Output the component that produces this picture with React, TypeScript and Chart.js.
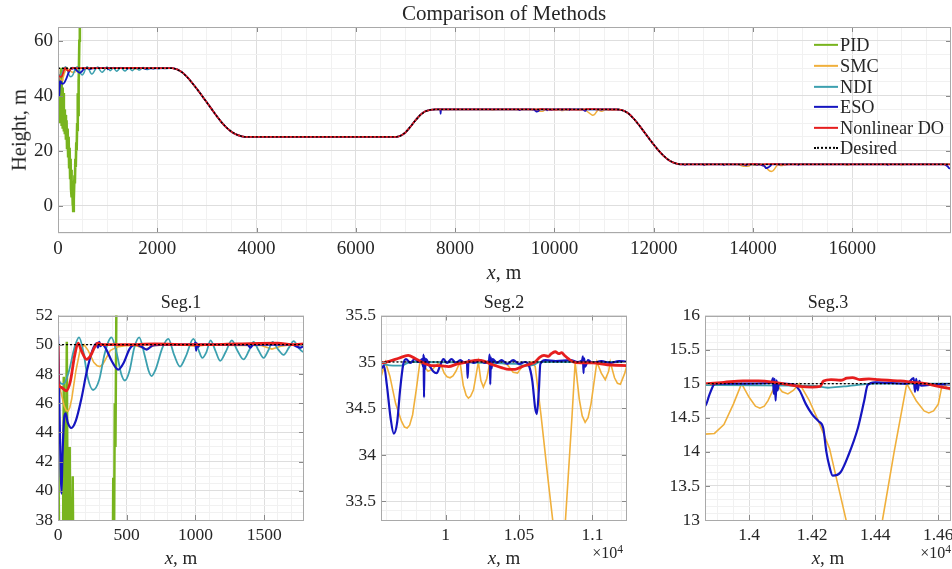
import React, { useEffect, useRef } from "react";
import { Chart, registerables } from "chart.js";

Chart.register(...registerables);

type P = [number, number];

const SERIF = '"Liberation Serif", "Times New Roman", serif';
const TXT = "#262626";
Chart.defaults.font.family = SERIF;

// ---------- series ----------
const seriesNames = ["PID", "SMC", "NDI", "ESO", "Nonlinear DO", "Desired"];
const seriesColors = ["#78b41e", "#f0b03c", "#3ca0af", "#1515c0", "#e61e1e", "#000000"];

// shared reference transitions (followed by every controller)
const ramp1: P[] = [[2350, 49.85], [2400, 49.55], [2500, 48.5], [2600, 46.8], [2700, 44.7], [2800, 42.4], [2900, 40.0], [3000, 37.5], [3100, 35.0], [3200, 32.5], [3300, 30.2], [3400, 28.3], [3500, 26.8], [3600, 25.8], [3700, 25.2], [3760, 25.0]];
const flat25: P[] = [[3800, 25], [6800, 25]];
const ramp2: P[] = [[6850, 25.1], [6900, 25.4], [7000, 26.6], [7100, 28.7], [7200, 31.0], [7300, 33.0], [7400, 34.3], [7500, 34.85], [7600, 35.0]];
const ramp3: P[] = [[11300, 34.95], [11400, 34.5], [11500, 33.4], [11600, 31.6], [11700, 29.4], [11800, 27.0], [11900, 24.6], [12000, 22.2], [12100, 20.0], [12200, 18.1], [12300, 16.6], [12400, 15.6], [12500, 15.1], [12560, 15.0]];

// Desired
const desiredA: P[] = [[0, 50], [2300, 50]];
const desiredC: P[] = [[7650, 35], [11250, 35]];
const desiredD: P[] = [[12600, 15], [18000, 15]];

// PID
const pidPts: P[] = [[0, 44], [12, 34], [26, 38], [34, 30], [42, 47.8], [52, 31], [64, 50.2], [74, 29], [85, 43], [95, 28], [107, 41.0], [118, 27], [128, 35], [138, 26], [150, 33], [160, 24], [172, 31], [182, 21], [194, 28], [204, 18], [214, 25], [224, 14], [234, 21], [244, 10], [254, 17], [262, 6], [270, 13], [278, 3], [286, 9], [294, 0], [300, 4], [306, -2], [314, 5], [322, 2], [332, 11], [340, 8], [350, 17], [358, 14], [368, 23], [376, 20], [386, 30], [394, 27], [402, 40.9], [406, 33], [413, 46], [418, 43], [430, 60], [440, 72]];

// SMC
const smcA: P[] = [[0, 50], [5, 47.9], [20, 46.8], [45, 45.8], [60, 45.5], [73, 45.45], [86, 45.7], [100, 46.3], [130, 48.2], [160, 49.6], [190, 50.0], [220, 49.6], [260, 48.8], [285, 48.55], [305, 48.5], [325, 48.65], [340, 48.9], [380, 49.6], [430, 49.85], [500, 49.95], [580, 49.9], [640, 49.7], [700, 49.95], [900, 50], [1000, 49.9], [1100, 50], [1300, 49.95], [1480, 49.95], [1557, 49.7], [1620, 49.9], [1700, 50], [1790, 50], [2300, 50]];
const smcC: P[] = [[7650, 35], [8700, 35], [8760, 34.75], [8820, 35], [9490, 35], [9525, 34.85], [9560, 34.84], [9590, 35.0], [9620, 34.85], [9660, 34.55], [9700, 34.36], [9720, 34.3], [9738, 34.29], [9755, 34.32], [9775, 34.43], [9800, 34.7], [9825, 35.0], [9850, 34.96], [9880, 34.9], [9910, 34.92], [9940, 34.97], [9961, 35.0], [9990, 34.88], [10010, 34.84], [10030, 34.83], [10050, 34.85], [10070, 34.9], [10098, 35.0], [10120, 34.75], [10140, 34.64], [10155, 34.61], [10170, 34.63], [10190, 34.7], [10223, 35.0], [10240, 34.8], [10257, 34.73], [10280, 34.82], [10302, 35.0], [10330, 34.96], [10360, 35.0], [10420, 34.97], [10460, 34.89], [10490, 34.88], [10520, 34.95], [10587, 35.0], [10610, 34.95], [10650, 34.42], [10700, 33.7], [10740, 33.15], [10760, 32.95], [10775, 32.9], [10790, 32.95], [10810, 33.15], [10830, 33.65], [10860, 34.4], [10882, 35.0], [10910, 34.6], [10930, 34.42], [10950, 34.35], [10970, 34.4], [10990, 34.55], [11030, 35.0], [11060, 34.88], [11087, 34.81], [11110, 34.9], [11121, 35.0], [11150, 34.83], [11170, 34.77], [11190, 34.76], [11220, 34.88], [11240, 35.0]];
const smcD: P[] = [[12600, 15], [13000, 15], [13050, 14.85], [13100, 15], [13700, 15], [13760, 14.6], [13810, 14.33], [13860, 14.26], [13890, 14.27], [13920, 14.4], [13950, 14.7], [13976, 15.0], [14000, 14.8], [14020, 14.67], [14034, 14.64], [14048, 14.67], [14060, 14.75], [14085, 15.0], [14105, 14.88], [14123, 14.85], [14140, 14.9], [14160, 15.0], [14190, 14.76], [14220, 14.45], [14255, 14.05], [14285, 13.45], [14310, 12.95], [14340, 12.55], [14370, 12.4], [14400, 12.6], [14423, 13.0], [14460, 14.0], [14500, 15.0], [14530, 14.75], [14555, 14.6], [14570, 14.57], [14585, 14.6], [14600, 14.7], [14613, 15.0], [14640, 14.9], [14700, 15], [15850, 15], [15900, 14.8], [15950, 15], [16950, 15], [17000, 14.85], [17050, 15], [18000, 15]];

// NDI
const ndiA: P[] = [[0, 50], [5, 47.6], [40, 47.3], [80, 48.2], [120, 49.8], [153, 50.5], [185, 49.5], [215, 47.8], [255, 46.9], [300, 47.6], [340, 49.4], [389, 50.5], [430, 49.3], [460, 48.0], [487, 47.55], [520, 48.2], [555, 49.8], [591, 50.5], [630, 49.3], [660, 48.2], [681, 47.85], [710, 48.3], [760, 49.8], [803, 50.4], [845, 49.3], [888, 48.5], [930, 49.2], [985, 50.4], [1020, 49.7], [1050, 49.1], [1080, 49.5], [1110, 50.3], [1145, 49.6], [1180, 48.9], [1220, 49.5], [1265, 50.3], [1305, 49.6], [1350, 49.0], [1390, 49.6], [1423, 50.2], [1460, 49.6], [1496, 49.1], [1530, 49.6], [1562, 50.2], [1600, 49.7], [1642, 49.3], [1680, 49.8], [1715, 50.25], [1750, 49.8], [1790, 49.5], [1830, 49.7], [1870, 50.1], [1920, 49.7], [1970, 50.1], [2030, 49.8], [2090, 50.05], [2150, 49.85], [2220, 50], [2300, 50]];
const ndiC: P[] = [[7650, 35], [9500, 35], [9560, 34.99], [9600, 34.97], [9700, 34.96], [9760, 35.0], [10480, 34.98], [10540, 34.96], [10600, 34.97], [10640, 35.0], [11240, 35.0]];
const ndiD: P[] = [[12600, 15], [13860, 14.98], [14200, 14.97], [14250, 14.94], [14300, 14.96], [14400, 15.0], [18000, 15]];

// ESO
const esoA: P[] = [[0, 50.65], [8, 47], [18, 42], [25, 39.8], [33, 42.5], [45, 45.0], [56, 45.3], [70, 44.7], [97, 44.3], [130, 44.8], [170, 46.3], [210, 48.2], [250, 49.6], [280, 50.1], [290, 49.8], [300, 50.2], [310, 49.9], [320, 50.05], [350, 49.7], [390, 48.9], [438, 48.3], [480, 48.8], [520, 49.7], [560, 50.0], [600, 49.9], [645, 49.67], [690, 49.95], [800, 50], [990, 50], [1000, 50.15], [1005, 49.6], [1010, 50.1], [1020, 49.85], [1030, 50], [1380, 50], [1400, 49.8], [1420, 50], [1700, 50], [1764, 49.8], [1790, 49.9], [2300, 50]];
const esoC: P[] = [[7650, 35], [7700, 35.05], [7708, 33.4], [7716, 35.0], [9280, 35], [9300, 34.7], [9320, 35], [9540, 35.0], [9560, 34.93], [9580, 34.96], [9600, 34.75], [9625, 34.4], [9647, 34.23], [9670, 34.35], [9690, 34.7], [9711, 34.97], [9730, 35.03], [9760, 34.99], [9790, 35.03], [9820, 35.0], [9840, 35.03], [9846, 34.95], [9850, 35.08], [9853, 34.62], [9856, 35.05], [9860, 34.92], [9866, 35.03], [9890, 34.96], [9915, 34.9], [9939, 34.88], [9960, 34.95], [9985, 35.03], [10010, 34.99], [10040, 35.03], [10070, 34.99], [10100, 35.02], [10130, 34.99], [10145, 35.0], [10150, 34.83], [10156, 35.02], [10190, 34.99], [10230, 35.02], [10270, 34.99], [10296, 35.02], [10300, 35.08], [10304, 34.76], [10308, 35.05], [10313, 34.93], [10320, 35.03], [10350, 34.99], [10380, 35.02], [10420, 34.98], [10460, 35.02], [10500, 34.98], [10540, 35.0], [10565, 34.97], [10590, 34.8], [10610, 34.5], [10621, 34.44], [10635, 34.7], [10645, 34.98], [10680, 35.02], [10750, 35.01], [10850, 35.02], [10900, 35.0], [10930, 35.02], [10935, 35.06], [10939, 34.88], [10943, 35.04], [10950, 34.95], [10970, 35.02], [11000, 34.99], [11060, 35.01], [11120, 34.99], [11180, 35.01], [11240, 35.0]];
const esoD: P[] = [[12600, 15], [12640, 14.8], [12660, 15], [13000, 15], [13015, 14.75], [13030, 15], [13400, 15], [13415, 14.75], [13430, 15], [13800, 15], [13830, 14.85], [13860, 14.67], [13875, 14.85], [13892, 15.0], [13950, 15.0], [14070, 15.01], [14076, 15.08], [14078, 14.85], [14081, 15.07], [14084, 14.75], [14087, 15.05], [14090, 14.9], [14094, 15.0], [14140, 14.99], [14160, 14.9], [14180, 14.7], [14200, 14.55], [14220, 14.45], [14235, 14.35], [14245, 14.0], [14255, 13.78], [14265, 13.65], [14290, 13.7], [14315, 13.95], [14345, 14.35], [14365, 14.75], [14376, 14.98], [14400, 15.02], [14500, 15.0], [14522, 15.08], [14526, 14.88], [14530, 15.07], [14535, 14.9], [14540, 15.04], [14545, 14.97], [14600, 14.99], [14640, 14.99], [14900, 15], [14915, 14.8], [14930, 15], [16700, 15], [16715, 14.8], [16730, 15], [17850, 15], [17920, 14.3], [17960, 13.5], [18000, 13.7]];

// Nonlinear DO
const ndoA: P[] = [[0, 50], [3, 47.3], [20, 47.1], [61, 46.85], [90, 47.5], [120, 49.2], [146, 50.1], [170, 49.6], [207, 49.0], [240, 49.3], [270, 49.9], [290, 50.1], [320, 50.0], [500, 50], [700, 50.05], [1000, 50], [1300, 50.05], [1600, 50.1], [1700, 50.0], [1790, 50.05], [2300, 50]];
const ndoC: P[] = [[7650, 35], [9500, 35], [9560, 34.99], [9620, 35.01], [9680, 35.04], [9745, 35.07], [9790, 35.04], [9850, 34.99], [9904, 34.96], [9960, 34.96], [10020, 34.95], [10080, 34.98], [10150, 35.0], [10220, 35.02], [10260, 35.01], [10320, 34.97], [10380, 34.94], [10430, 34.92], [10473, 34.92], [10520, 34.95], [10580, 34.98], [10610, 35.0], [10640, 35.05], [10670, 35.07], [10700, 35.06], [10720, 35.09], [10746, 35.11], [10770, 35.09], [10790, 35.1], [10810, 35.07], [10840, 35.03], [10870, 35.0], [10920, 34.99], [11000, 34.99], [11100, 34.97], [11240, 34.96]];
const ndoD: P[] = [[12600, 15], [13860, 15.0], [13920, 15.02], [13980, 15.04], [14030, 15.04], [14080, 15.02], [14120, 14.99], [14160, 14.96], [14200, 14.95], [14225, 14.96], [14236, 15.04], [14260, 15.06], [14290, 15.05], [14310, 15.08], [14328, 15.09], [14350, 15.06], [14380, 15.07], [14410, 15.06], [14440, 15.05], [14480, 15.04], [14520, 15.02], [14560, 15.0], [14600, 14.96], [14640, 14.93], [14800, 14.98], [18000, 15]];

const pidData: P[] = pidPts;
const smcData: P[] = [...smcA, ...ramp1, ...flat25, ...ramp2, ...smcC, ...ramp3, ...smcD];
const ndiData: P[] = [...ndiA, ...ramp1, ...flat25, ...ramp2, ...ndiC, ...ramp3, ...ndiD];
const esoData: P[] = [...esoA, ...ramp1, ...flat25, ...ramp2, ...esoC, ...ramp3, ...esoD];
const ndoData: P[] = [...ndoA, ...ramp1, ...flat25, ...ramp2, ...ndoC, ...ramp3, ...ndoD];
const desiredData: P[] = [...desiredA, ...ramp1, ...flat25, ...ramp2, ...desiredC, ...ramp3, ...desiredD];

// ---------- ticks ----------
const topXTicks = [0, 2000, 4000, 6000, 8000, 10000, 12000, 14000, 16000];
const topXLabels = ["0", "2000", "4000", "6000", "8000", "10000", "12000", "14000", "16000"];
const topYTicks = [0, 20, 40, 60];
const topYLabels = ["0", "20", "40", "60"];
const seg1XTicks = [0, 500, 1000, 1500];
const seg1XLabels = ["0", "500", "1000", "1500"];
const seg1YTicks = [38, 40, 42, 44, 46, 48, 50, 52];
const seg1YLabels = ["38", "40", "42", "44", "46", "48", "50", "52"];
const seg2XTicks = [10000, 10500, 11000];
const seg2XLabels = ["1", "1.05", "1.1"];
const seg2YTicks = [33.5, 34, 34.5, 35, 35.5];
const seg2YLabels = ["33.5", "34", "34.5", "35", "35.5"];
const seg3XTicks = [14000, 14200, 14400, 14600];
const seg3XLabels = ["1.4", "1.42", "1.44", "1.46"];
const seg3YTicks = [13, 13.5, 14, 14.5, 15, 15.5, 16];
const seg3YLabels = ["13", "13.5", "14", "14.5", "15", "15.5", "16"];

const topWidths = [2.6, 1.5, 1.5, 1.8, 1.8, 1.4];
const segWidths = [2.5, 1.6, 1.8, 2.2, 2.8, 1.3];
const smoothSeries = [false, false, true, true, true, false];

type Spec = {
  left: number; top: number; width: number; height: number;
  padTop: number; padRight: number; yAxisW: number; xAxisH: number;
  xMin: number; xMax: number; yMin: number; yMax: number;
  xMajor: number[]; xLabels: string[]; xMinor: number;
  yMajor: number[]; yLabels: string[]; yMinor: number;
  widths: number[]; tickSize: number; xPad: number;
};

const panels: Spec[] = [
  { left: 0, top: 0, width: 961, height: 262, padTop: 27, padRight: 10, yAxisW: 58, xAxisH: 29,
    xMin: 0, xMax: 17990, yMin: -10, yMax: 65, xMajor: topXTicks, xLabels: topXLabels, xMinor: 500,
    yMajor: topYTicks, yLabels: topYLabels, yMinor: 5, widths: topWidths, tickSize: 19, xPad: 5 },
  { left: 0, top: 300, width: 312, height: 269, padTop: 13, padRight: 8, yAxisW: 58, xAxisH: 49,
    xMin: 0, xMax: 1790, yMin: 38, yMax: 52, xMajor: seg1XTicks, xLabels: seg1XLabels, xMinor: 100,
    yMajor: seg1YTicks, yLabels: seg1YLabels, yMinor: 0.5, widths: segWidths, tickSize: 17.5, xPad: 5 },
  { left: 323, top: 300, width: 312, height: 269, padTop: 13, padRight: 8, yAxisW: 58, xAxisH: 49,
    xMin: 9560, xMax: 11235, yMin: 33.3, yMax: 35.5, xMajor: seg2XTicks, xLabels: seg2XLabels, xMinor: 100,
    yMajor: seg2YTicks, yLabels: seg2YLabels, yMinor: 0.1, widths: segWidths, tickSize: 17.5, xPad: 5 },
  { left: 647, top: 300, width: 312, height: 269, padTop: 13, padRight: 8, yAxisW: 58, xAxisH: 49,
    xMin: 13860, xMax: 14640, yMin: 13, yMax: 16, xMajor: seg3XTicks, xLabels: seg3XLabels, xMinor: 50,
    yMajor: seg3YTicks, yLabels: seg3YLabels, yMinor: 0.1, widths: segWidths, tickSize: 17.5, xPad: 5 },
];

function gridValues(min: number, max: number, step: number): number[] {
  const out: number[] = [];
  const s = Math.ceil(min / step - 1e-9);
  const e = Math.floor(max / step + 1e-9);
  for (let i = s; i <= e; i++) out.push(Math.round(i * step * 1e6) / 1e6);
  return out;
}
function majorIndex(v: number, majors: number[]): number {
  return majors.findIndex((m) => Math.abs(m - v) < 1e-6 * Math.max(1, Math.abs(m)));
}

const framePlugin = {
  id: "frame",
  afterDatasetsDraw(chart: any, _a: any, opts: any) {
    const { ctx, chartArea: a } = chart;
    const xs = chart.scales.x;
    const ys = chart.scales.y;
    ctx.save();
    ctx.lineWidth = 1;
    ctx.strokeStyle = "#8a8a8a";
    ctx.beginPath();
    for (const v of opts.xMajor) {
      const px = Math.round(xs.getPixelForValue(v)) + 0.5;
      if (px < a.left - 1 || px > a.right + 1) continue;
      ctx.moveTo(px, a.bottom); ctx.lineTo(px, a.bottom - 5);
      ctx.moveTo(px, a.top); ctx.lineTo(px, a.top + 5);
    }
    for (const v of opts.yMajor) {
      const py = Math.round(ys.getPixelForValue(v)) + 0.5;
      if (py < a.top - 1 || py > a.bottom + 1) continue;
      ctx.moveTo(a.left, py); ctx.lineTo(a.left + 5, py);
      ctx.moveTo(a.right, py); ctx.lineTo(a.right - 5, py);
    }
    ctx.stroke();
    ctx.strokeStyle = "#a9a9a9";
    ctx.strokeRect(Math.round(a.left) + 0.5, Math.round(a.top) + 0.5, Math.round(a.right - a.left) - 1, Math.round(a.bottom - a.top) - 1);
    ctx.restore();
  },
};

function makeChart(canvas: HTMLCanvasElement, p: Spec) {
  const sets: P[][] = [desiredData, ndoData, esoData, ndiData, smcData, pidData];
  const nameIdx = [5, 4, 3, 2, 1, 0];
  const datasets = sets.map((d, k) => {
    const i = nameIdx[k];
    return {
      label: seriesNames[i],
      data: d.map(([x, y]) => ({ x, y })),
      borderColor: seriesColors[i],
      backgroundColor: seriesColors[i],
      borderWidth: p.widths[i],
      borderDash: i === 5 ? [2, 2] : [],
      pointRadius: 0,
      tension: 0,
      cubicInterpolationMode: smoothSeries[i] ? "monotone" : "default",
      fill: false,
      clip: 0,
    };
  });
  const xTicks = gridValues(p.xMin, p.xMax, p.xMinor);
  const yTicks = gridValues(p.yMin, p.yMax, p.yMinor);
  const gridColor = (majors: number[]) => (c: any) =>
    c.tick && majorIndex(c.tick.value, majors) >= 0 ? "#dedede" : "#f1f1f1";
  const font = { family: SERIF, size: p.tickSize };
  return new Chart(canvas, {
    type: "line",
    data: { datasets: datasets as any },
    plugins: [framePlugin as any],
    options: {
      responsive: false,
      animation: false,
      events: [],
      font: { family: SERIF },
      layout: { padding: { top: p.padTop, right: p.padRight, left: 0, bottom: 0 } },
      plugins: {
        legend: { display: false },
        tooltip: { enabled: false },
        title: { display: false },
        frame: { xMajor: p.xMajor, yMajor: p.yMajor },
      } as any,
      scales: {
        x: {
          type: "linear",
          min: p.xMin,
          max: p.xMax,
          afterBuildTicks: (s: any) => { s.ticks = xTicks.map((v) => ({ value: v })); },
          afterFit: (s: any) => { s.height = p.xAxisH; },
          grid: { color: gridColor(p.xMajor), drawTicks: false, lineWidth: 1 },
          border: { display: false },
          ticks: {
            autoSkip: false, maxRotation: 0, padding: p.xPad, color: TXT, font: { ...font },
            callback: (v: any) => { const j = majorIndex(Number(v), p.xMajor); return j >= 0 ? p.xLabels[j] : ""; },
          },
        },
        y: {
          type: "linear",
          min: p.yMin,
          max: p.yMax,
          afterBuildTicks: (s: any) => { s.ticks = yTicks.map((v) => ({ value: v })); },
          afterFit: (s: any) => { s.width = p.yAxisW; },
          grid: { color: gridColor(p.yMajor), drawTicks: false, lineWidth: 1 },
          border: { display: false },
          ticks: {
            autoSkip: false, padding: 5, color: TXT, font: { ...font },
            callback: (v: any) => { const j = majorIndex(Number(v), p.yMajor); return j >= 0 ? p.yLabels[j] : ""; },
          },
        },
      },
    } as any,
  });
}

function Txt(props: { x: number; y: number; size: number; children: any; rotate?: boolean; anchor?: "c" | "r" }) {
  const tx = props.anchor === "r" ? "-100%" : "-50%";
  return (
    <div style={{
      position: "absolute", left: props.x, top: props.y, fontSize: props.size, lineHeight: 1,
      whiteSpace: "nowrap", color: TXT, fontFamily: SERIF,
      transform: `translate(${tx},-50%)${props.rotate ? " rotate(-90deg)" : ""}`,
    }}>{props.children}</div>
  );
}

const legendRows = [45, 66, 86.5, 107, 127.5, 148];

export default function App() {
  const refs = [useRef<HTMLCanvasElement>(null), useRef<HTMLCanvasElement>(null), useRef<HTMLCanvasElement>(null), useRef<HTMLCanvasElement>(null)];
  useEffect(() => {
    let alive = true;
    let charts: Chart[] = [];
    const fs: any = (document as any).fonts;
    const ready: Promise<any> = fs && fs.load
      ? Promise.all([fs.load('17px "Liberation Serif"'), fs.load('italic 17px "Liberation Serif"')]).catch(() => null)
      : Promise.resolve(null);
    ready.then(() => {
      if (!alive) return;
      charts = panels.map((p, i) => makeChart(refs[i].current as HTMLCanvasElement, p));
    });
    return () => { alive = false; charts.forEach((c) => c.destroy()); };
  }, []);
  const xm = (<span><i>x</i>, m</span>);
  const exp = (<span>×10<span style={{ fontSize: "0.72em", position: "relative", top: "-0.45em" }}>4</span></span>);
  return (
    <div style={{ position: "absolute", left: 0, top: 0, width: 952, height: 569, overflow: "hidden", background: "#fff" }}>
      {panels.map((p, i) => (
        <canvas key={i} ref={refs[i]} width={p.width} height={p.height}
          style={{ position: "absolute", left: p.left, top: p.top, width: p.width, height: p.height }} />
      ))}
      <Txt x={504} y={13} size={21}>Comparison of Methods</Txt>
      <Txt x={19} y={130} size={20.5} rotate>Height, m</Txt>
      <Txt x={504} y={272} size={20}>{xm}</Txt>
      <Txt x={181} y={302} size={18}>Seg.1</Txt>
      <Txt x={504} y={302} size={18}>Seg.2</Txt>
      <Txt x={828} y={302} size={18}>Seg.3</Txt>
      <Txt x={181} y={557} size={19}>{xm}</Txt>
      <Txt x={504} y={557} size={19}>{xm}</Txt>
      <Txt x={828} y={557} size={19}>{xm}</Txt>
      <Txt x={623} y={553} size={16} anchor="r">{exp}</Txt>
      <Txt x={951} y={553} size={16} anchor="r">{exp}</Txt>
      {seriesNames.map((n, i) => (
        <div key={n} style={{ position: "absolute", left: 814, top: legendRows[i], transform: "translateY(-50%)", display: "flex", alignItems: "center" }}>
          <div style={{ width: 24, height: 0, borderTop: `2px ${i === 5 ? "dotted" : "solid"} ${seriesColors[i]}`, marginRight: 2 }} />
          <span style={{ fontFamily: SERIF, fontSize: 18.3, lineHeight: 1, color: TXT, whiteSpace: "nowrap" }}>{n}</span>
        </div>
      ))}
    </div>
  );
}
